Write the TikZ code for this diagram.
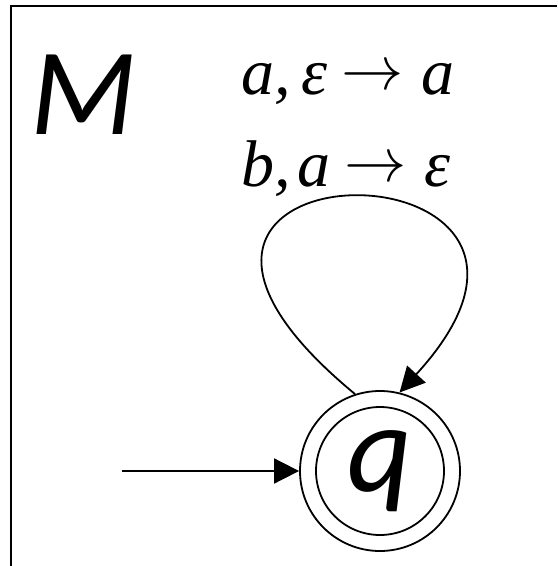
\documentclass[tikz,border=0pt]{standalone}
\usepackage{fontspec}
\newfontfamily\calfont{Carlito}
\newfontfamily\serfont{Liberation Serif}
\usetikzlibrary{positioning,arrows.meta}
\newcommand\longto{\hspace{7pt}\raisebox{2.5pt}{\scalebox{1.25}{$\to$}}\hspace{9pt}}

\begin{document}
\begin{tikzpicture}[x=0.5pt,y=-0.5pt,line width=0.9pt,
    state/.style={circle,draw,inner sep=0pt,minimum size=80pt,
      font=\calfont\itshape\fontsize{63}{63}\selectfont},
    trans/.style={-{Triangle[length=12.5pt,width=12.5pt]}},
    lbl/.style={anchor=base west,inner sep=0pt,font=\serfont\itshape\fontsize{33}{33}\selectfont}]
    \useasboundingbox (0,0) rectangle (557,566);
    \draw[line width=1.2pt] (11,566) -- (11,6) -- (557,6);
    \node[anchor=base,inner sep=0pt,font=\calfont\itshape\fontsize{62}{62}\selectfont] (name) at (84,135) {M};
    \node[lbl] (lbla) at (241,95) {a,\hspace{5pt}ε\longto a};
    \node[lbl] (lblb) at (241,187) {b,\hspace{3pt}a\longto ε};
    \node[state] (q) at (380,471) {q};
    \draw (q.center) circle (32pt);
    \coordinate (init) at (122,471);
    \draw[trans] (init) -- (q);
    \draw[trans] (q.108) .. controls +(-315,-260) and +(240,-262) .. (q.76);
\end{tikzpicture}
\end{document}
